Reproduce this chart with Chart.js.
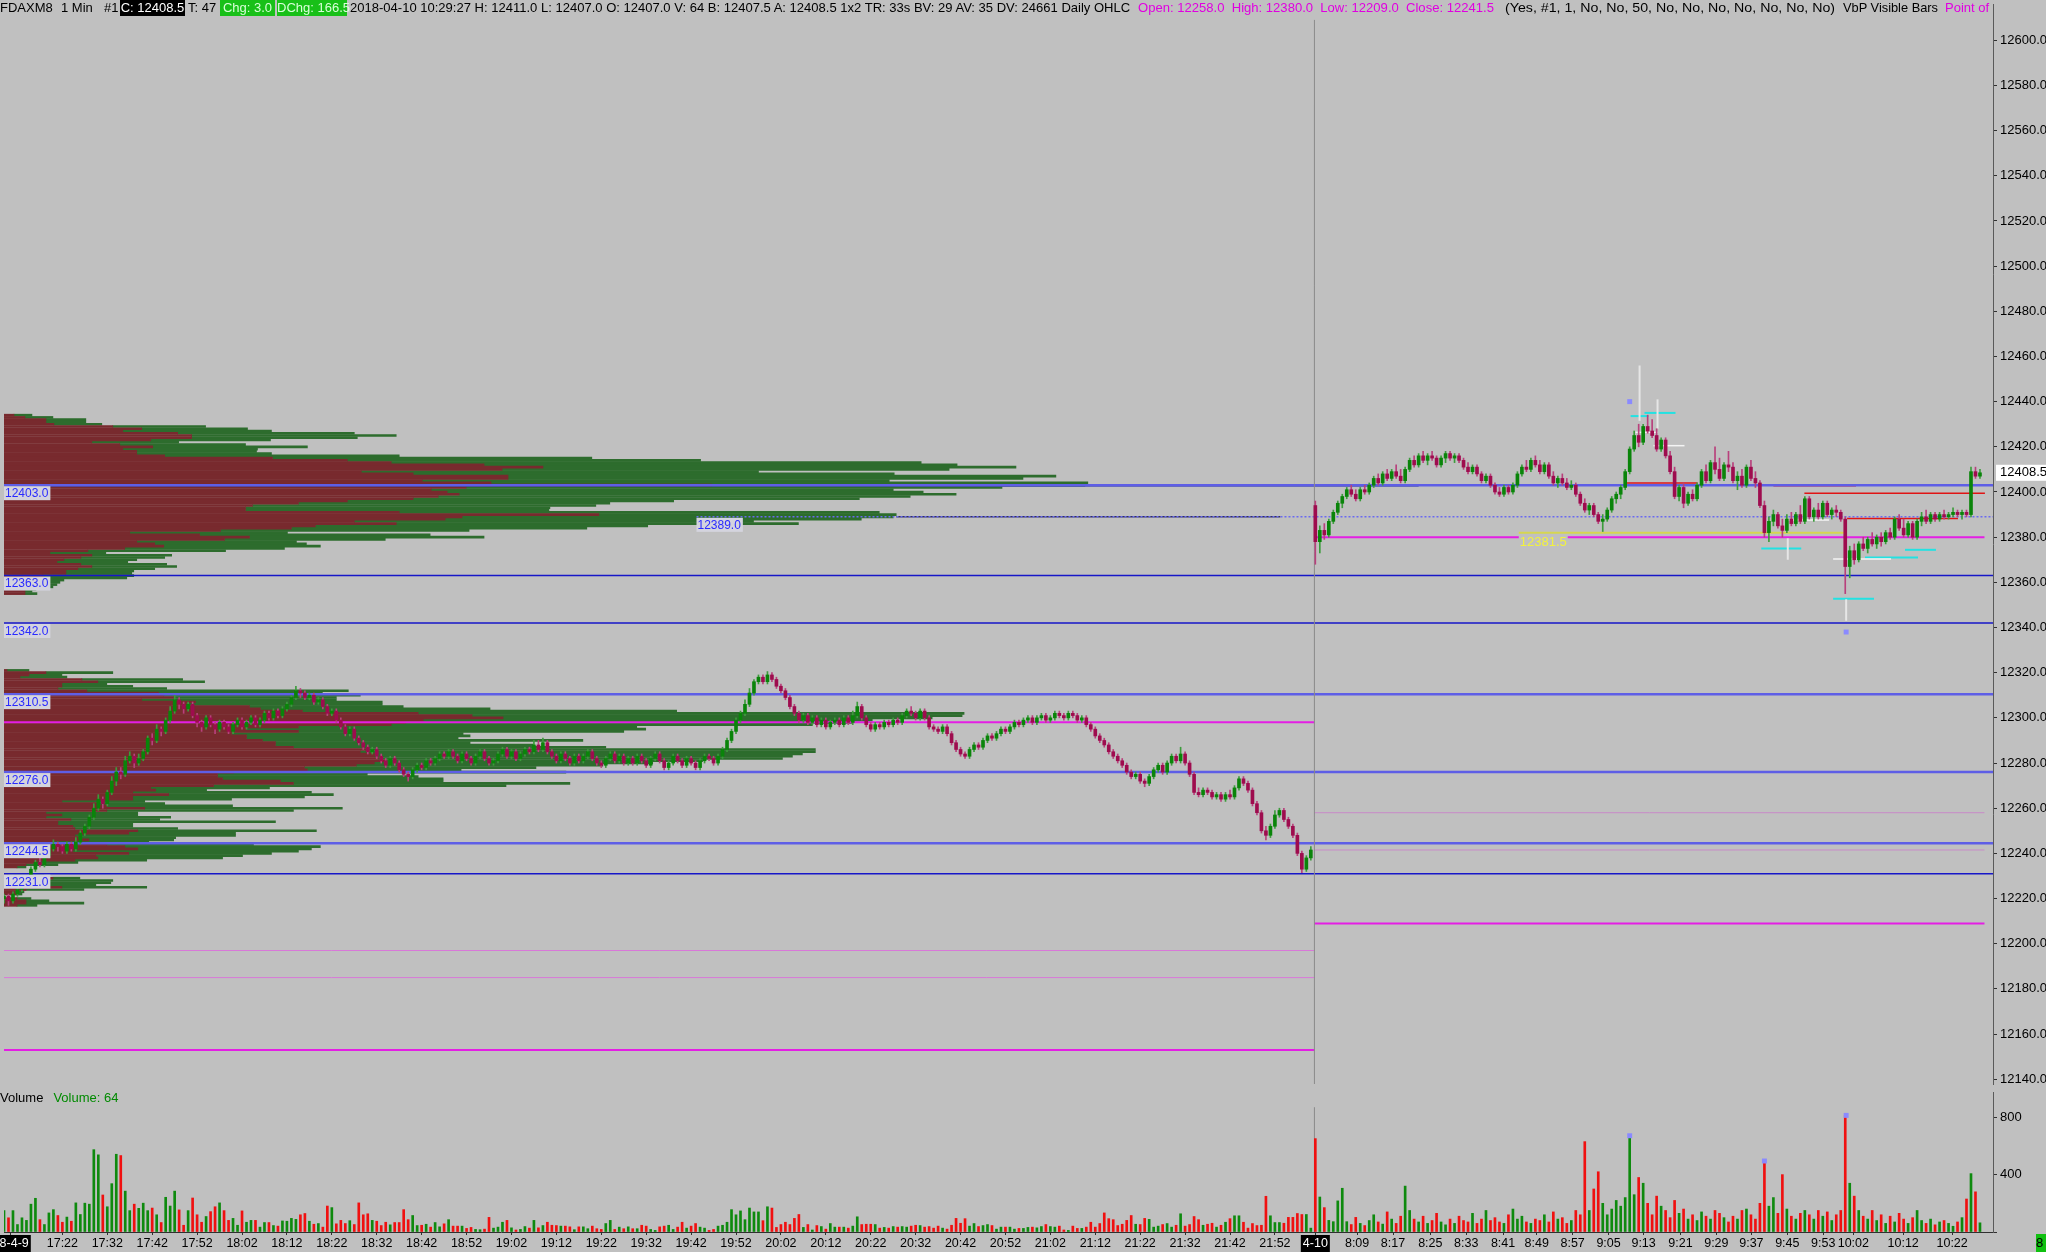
<!DOCTYPE html>
<html>
<head>
<meta charset="utf-8">
<title>FDAXM8 1 Min</title>
<script src="https://cdn.jsdelivr.net/npm/chart.js@4.4.1/dist/chart.umd.min.js"></script>
<style>
  html, body { margin:0; padding:0; background:#c0c0c0; width:2046px; height:1252px; overflow:hidden; font-family:"Liberation Sans", Arial, sans-serif; }
  canvas { position:absolute; left:0; }
  #price { top:0; }
  #volume { top:1088px; }
  #hdr { position:absolute; left:0; top:0; width:1993px; height:16px; overflow:hidden; font-size:13px; line-height:16px; white-space:nowrap; z-index:2; }
  #hdr span { position:absolute; top:0; transform-origin:left center; }
  .inv { background:#000; color:#fff; text-align:center; }
  .grn { background:#18c018; color:#d8ffd8; text-align:center; }
  .mag { color:#e000e0; }
  #vlab { position:absolute; left:0; top:1090px; font-size:13px; line-height:15px; z-index:2; }
  #vlab b { font-weight:normal; color:#008a00; margin-left:10px; }
  #clock { position:absolute; left:2036px; top:1234px; width:10px; height:18px; background:#10c010; font-size:13px; line-height:18px; overflow:hidden; }
</style>
</head>
<body>
<canvas id="price" width="2046" height="1088" style="width:2046px;height:1088px"></canvas>
<canvas id="volume" width="2046" height="164" style="width:2046px;height:164px"></canvas>
<div id="hdr">
  <span style="left:0">FDAXM8</span>
  <span style="left:61px">1 Min</span>
  <span style="left:104px">#1</span>
  <span class="inv" style="left:120px;width:65px">C: 12408.5</span>
  <span style="left:188px">T: 47</span>
  <span class="grn" style="left:220px;width:55px">Chg: 3.0</span>
  <span class="grn" style="left:277px;width:70px">DChg: 166.5</span>
  <span data-w="780" style="left:350px">2018-04-10 10:29:27 H: 12411.0 L: 12407.0 O: 12407.0 V: 64 B: 12407.5 A: 12408.5 1x2 TR: 33s BV: 29 AV: 35 DV: 24661 Daily OHLC</span>
  <span class="mag" data-w="356" style="left:1138px">Open: 12258.0&nbsp; High: 12380.0&nbsp; Low: 12209.0&nbsp; Close: 12241.5</span>
  <span data-w="330" style="left:1505px">(Yes, #1, 1, No, No, 50, No, No, No, No, No, No, No)</span>
  <span data-w="95" style="left:1843px">VbP Visible Bars</span>
  <span class="mag" style="left:1945px">Point of</span>
</div>
<div id="vlab">Volume<b>Volume: 64</b></div>
<div id="clock">8</div>
<script>
// ---- candles, [open, high, low, close] per 1-minute bar ----
const bars0409 = [
[12220,12222,12218,12221],[12221,12222,12217,12219],[12219,12223,12218,12222],[12222,12225,12221,12224],[12224,12227,12223,12226],
[12226,12230,12225,12229],[12229,12234,12228,12233],[12233,12237,12232,12236],[12236,12238,12234,12235],[12235,12240,12234,12239],
[12239,12243,12238,12242],[12242,12246,12241,12244],[12244,12245,12241,12243],[12243,12244,12240,12241],[12241,12245,12240,12244],
[12244,12245,12241,12242],[12242,12247,12241,12245],[12245,12250,12244,12249],[12249,12253,12248,12252],[12252,12257,12251,12256],
[12256,12262,12255,12260],[12260,12266,12259,12264],[12264,12265,12260,12262],[12262,12268,12261,12267],[12267,12274,12266,12272],
[12272,12278,12270,12276],[12276,12278,12273,12275],[12275,12283,12274,12281],[12281,12285,12280,12283],[12283,12284,12278,12280],
[12280,12284,12279,12282],[12282,12286,12281,12285],[12285,12292,12284,12291],[12291,12293,12288,12290],[12290,12297,12289,12295],
[12295,12296,12292,12294],[12294,12300,12293,12299],[12299,12305,12298,12303],[12303,12310,12302,12308],[12308,12309,12304,12306],
[12306,12307,12302,12304],[12304,12307,12303,12306],[12306,12307,12300,12301],[12301,12302,12296,12298],[12298,12299,12294,12296],
[12296,12301,12295,12300],[12300,12301,12296,12297],[12297,12298,12293,12295],[12295,12299,12294,12298],[12298,12299,12295,12296],
[12296,12297,12293,12294],[12294,12298,12293,12297],[12297,12300,12296,12299],[12299,12300,12295,12296],[12296,12299,12295,12298],
[12298,12301,12297,12300],[12300,12301,12296,12297],[12297,12300,12296,12299],[12299,12303,12298,12302],[12302,12303,12299,12300],
[12300,12304,12299,12303],[12303,12304,12300,12301],[12301,12305,12300,12304],[12304,12307,12303,12306],[12306,12310,12305,12309],
[12309,12314,12308,12312],[12312,12313,12309,12311],[12311,12312,12308,12309],[12309,12311,12308,12310],[12310,12311,12306,12307],
[12307,12309,12306,12308],[12308,12309,12304,12305],[12305,12306,12301,12302],[12302,12304,12301,12303],[12303,12304,12298,12299],
[12299,12300,12295,12296],[12296,12297,12292,12293],[12293,12296,12292,12295],[12295,12296,12290,12291],[12291,12292,12288,12289],
[12289,12290,12286,12287],[12287,12288,12284,12285],[12285,12287,12284,12286],[12286,12287,12282,12283],[12283,12284,12280,12281],
[12281,12282,12278,12279],[12279,12283,12278,12282],[12282,12283,12279,12280],[12280,12281,12276,12277],[12277,12278,12274,12275],
[12275,12276,12272,12274],[12274,12278,12273,12277],[12277,12280,12276,12279],[12279,12280,12277,12278],[12278,12282,12277,12281],
[12281,12282,12279,12280],[12280,12283,12279,12282],[12282,12285,12281,12284],[12284,12285,12282,12283],[12283,12286,12282,12285],
[12285,12286,12282,12283],[12283,12284,12280,12281],[12281,12285,12280,12284],[12284,12285,12281,12282],[12282,12283,12279,12280],
[12280,12284,12279,12283],[12283,12286,12282,12285],[12285,12286,12281,12282],[12282,12283,12279,12280],[12280,12282,12279,12281],
[12281,12285,12280,12284],[12284,12287,12283,12286],[12286,12287,12282,12283],[12283,12286,12282,12285],[12285,12286,12281,12282],
[12282,12285,12281,12284],[12284,12287,12283,12286],[12286,12287,12284,12285],[12285,12290,12284,12288],[12288,12290,12285,12286],
[12286,12291,12285,12289],[12289,12290,12284,12285],[12285,12286,12282,12283],[12283,12284,12280,12281],[12281,12285,12280,12284],
[12284,12285,12281,12282],[12282,12283,12279,12280],[12280,12284,12279,12283],[12283,12284,12280,12281],[12281,12284,12280,12283],
[12283,12286,12282,12285],[12285,12286,12281,12282],[12282,12283,12279,12280],[12280,12281,12278,12279],[12279,12283,12278,12282],
[12282,12285,12281,12284],[12284,12285,12280,12281],[12281,12284,12280,12283],[12283,12284,12279,12280],[12280,12283,12279,12282],
[12282,12283,12279,12280],[12280,12284,12279,12283],[12283,12284,12280,12281],[12281,12282,12278,12279],[12279,12283,12278,12282],
[12282,12285,12281,12284],[12284,12285,12280,12281],[12281,12282,12277,12278],[12278,12281,12277,12280],[12280,12284,12279,12283],
[12283,12284,12280,12281],[12281,12282,12278,12279],[12279,12283,12278,12282],[12282,12283,12279,12280],[12280,12281,12277,12278],
[12278,12282,12277,12281],[12281,12284,12280,12283],[12283,12284,12281,12282],[12282,12283,12279,12280],[12280,12284,12279,12283],
[12283,12287,12282,12286],[12286,12291,12285,12290],[12290,12295,12289,12294],[12294,12300,12293,12299],[12299,12303,12298,12302],
[12302,12308,12301,12306],[12306,12313,12305,12311],[12311,12317,12310,12316],[12316,12319,12315,12318],[12318,12319,12315,12316],
[12316,12320.5,12315,12319],[12319,12320,12316,12317],[12317,12318,12313,12314],[12314,12315,12311,12312],[12312,12313,12308,12309],
[12309,12310,12304,12305],[12305,12306,12301,12302],[12302,12303,12298,12299],[12299,12302,12298,12301],[12301,12302,12297,12298],
[12298,12301,12297,12300],[12300,12301,12296,12297],[12297,12300,12296,12299],[12299,12300,12295,12296],[12296,12299,12295,12298],
[12298,12300,12297,12299],[12299,12300,12296,12297],[12297,12301,12296,12300],[12300,12301,12297,12298],[12298,12303,12297,12301],
[12301,12307,12300,12305],[12305,12306,12299,12300],[12300,12301,12296,12297],[12297,12298,12294,12295],[12295,12298,12294,12297],
[12297,12298,12295,12296],[12296,12299,12295,12298],[12298,12299,12296,12297],[12297,12300,12296,12299],[12299,12300,12297,12298],
[12298,12302,12297,12301],[12301,12304,12300,12303],[12303,12305,12301,12302],[12302,12303,12299,12300],[12300,12304,12299,12303],
[12303,12304,12299,12300],[12300,12301,12295,12296],[12296,12297,12294,12295],[12295,12296,12293,12294],[12294,12297,12293,12296],
[12296,12297,12292,12293],[12293,12294,12288,12289],[12289,12290,12285,12286],[12286,12287,12283,12284],[12284,12285,12282,12283],
[12283,12287,12282,12286],[12286,12289,12285,12288],[12288,12289,12286,12287],[12287,12291,12286,12290],[12290,12293,12289,12292],
[12292,12293,12290,12291],[12291,12294,12290,12293],[12293,12296,12292,12295],[12295,12296,12293,12294],[12294,12297,12293,12296],
[12296,12299,12295,12298],[12298,12299,12296,12297],[12297,12300,12296,12299],[12299,12301,12298,12300],[12300,12301,12297,12298],
[12298,12301,12297,12300],[12300,12302,12299,12301],[12301,12302,12298,12299],[12299,12301,12298,12300],[12300,12303,12299,12302],
[12302,12303,12300,12301],[12301,12302,12299,12300],[12300,12303,12299,12302],[12302,12303,12300,12301],[12301,12302,12298,12299],
[12299,12301,12298,12300],[12300,12301,12296,12297],[12297,12298,12294,12295],[12295,12296,12291,12292],[12292,12293,12289,12290],
[12290,12291,12287,12288],[12288,12289,12284,12285],[12285,12286,12282,12283],[12283,12284,12280,12281],[12281,12282,12278,12279],
[12279,12280,12275,12276],[12276,12277,12273,12274],[12274,12276,12273,12275],[12275,12276,12271,12272],[12272,12273,12269.5,12271],
[12271,12275,12270,12274],[12274,12278,12273,12277],[12277,12280,12276,12279],[12279,12280,12275,12276],[12276,12281,12275,12280],
[12280,12284,12279,12283],[12283,12284,12280,12281],[12281,12287,12280,12284],[12284,12285,12279,12280],[12280,12281,12274,12275],
[12275,12276,12266,12267],[12267,12269,12265,12266],[12266,12269,12265,12268],[12268,12269,12266,12267],[12267,12268,12264,12265],
[12265,12267,12264,12266],[12266,12267,12263,12264],[12264,12267,12263,12266],[12266,12268,12264,12265],[12265,12270,12264,12269],
[12269,12274,12268,12273],[12273,12274,12270,12271],[12271,12272,12267,12268],[12268,12269,12261,12262],[12262,12263,12257,12258],
[12258,12259,12249,12250],[12250,12252,12246,12248],[12248,12253,12247,12252],[12252,12259,12251,12257],[12257,12260,12256,12259],
[12259,12260,12254,12255],[12255,12256,12251,12252],[12252,12253,12247,12248],[12248,12249,12239,12240],[12240,12241,12231.5,12233],
[12233,12239,12232,12238],[12238,12243,12237,12241.5]
];
const bars0410 = [
[12394,12396,12368,12378],[12378,12385,12373,12383],[12383,12386,12379,12381],[12381,12388,12380,12387],[12387,12392,12386,12391],
[12391,12396,12390,12395],[12395,12399,12393,12398],[12398,12402,12397,12401],[12401,12403,12398,12399],[12399,12401,12396,12397],
[12397,12402,12396,12401],[12401,12403,12399,12400],[12400,12404,12399,12403],[12403,12407,12402,12406],[12406,12408,12403,12404],
[12404,12409,12403,12408],[12408,12410,12405,12406],[12406,12410,12405,12409],[12409,12412,12406,12407],[12407,12410,12404,12405],
[12405,12411,12404,12410],[12410,12415,12409,12414],[12414,12416,12411,12412],[12412,12417,12411,12416],[12416,12418,12413,12414],
[12414,12417,12412,12416],[12416,12418,12414,12415],[12415,12416,12411,12412],[12412,12416,12411,12415],[12415,12418,12413,12417],
[12417,12418,12414,12415],[12415,12417,12413,12416],[12416,12417,12413,12414],[12414,12415,12410,12411],[12411,12413,12408,12409],
[12409,12412,12408,12411],[12411,12412,12407,12408],[12408,12409,12404,12405],[12405,12408,12404,12407],[12407,12408,12402,12403],
[12403,12404,12399,12400],[12400,12402,12398,12399],[12399,12403,12398,12402],[12402,12403,12399,12400],[12400,12404,12399,12403],
[12403,12409,12402,12408],[12408,12412,12407,12411],[12411,12414,12409,12410],[12410,12415,12409,12414],[12414,12416,12411,12412],
[12412,12414,12408,12409],[12409,12413,12408,12412],[12412,12413,12406,12407],[12407,12409,12403,12404],[12404,12407,12402,12406],
[12406,12408,12403,12404],[12404,12406,12401,12402],[12402,12405,12401,12403],[12403,12404,12398,12399],[12399,12400,12394,12395],
[12395,12397,12391,12392],[12392,12395,12390,12394],[12394,12395,12389,12390],[12390,12391,12386,12387],[12387,12390,12382.5,12388],
[12388,12393,12387,12392],[12392,12398,12391,12397],[12397,12400,12395,12399],[12399,12403,12397,12402],[12402,12410,12401,12409],
[12409,12420,12408,12419],[12419,12427,12418,12425],[12425,12430,12420,12422],[12422,12430,12421,12429],[12429,12434,12426,12427],
[12427,12432,12424,12425],[12425,12428,12418,12419],[12419,12424,12418,12423],[12423,12424,12415,12416],[12416,12418,12408,12409],
[12409,12411,12397,12398],[12398,12403,12396,12402],[12402,12404,12393,12395],[12395,12400,12394,12399],[12399,12401,12396,12397],
[12397,12404,12396,12403],[12403,12410,12402,12409],[12409,12412,12404,12405],[12405,12414,12404,12413],[12413,12420,12408,12410],
[12410,12415,12405,12406],[12406,12413,12405,12412],[12412,12418,12409,12411],[12411,12413,12404,12405],[12405,12409,12401,12407],
[12407,12410,12402,12403],[12403,12412,12402,12411],[12411,12414,12405,12406],[12406,12409,12402,12404],[12404,12405,12393,12394],
[12394,12396,12380,12382],[12382,12389,12378,12387],[12387,12392,12385,12390],[12390,12391,12384,12385],[12385,12388,12380,12383],
[12383,12390,12382,12388],[12388,12391,12385,12386],[12386,12391,12385,12390],[12390,12394,12386,12387],[12387,12398,12386,12397],
[12397,12398,12388,12389],[12389,12393,12387,12392],[12392,12395,12388,12389],[12389,12396,12388,12395],[12395,12396,12389,12390],
[12390,12393,12388,12392],[12392,12394,12389,12391],[12391,12392,12387,12388],[12388,12389,12355,12367],[12367,12376,12362,12374],
[12374,12377,12368,12370],[12370,12378,12369,12377],[12377,12380,12374,12375],[12375,12380,12373,12379],[12379,12382,12376,12377],
[12377,12381,12375,12380],[12380,12382,12376,12378],[12378,12383,12377,12382],[12382,12384,12379,12380],[12380,12389,12379,12388],
[12388,12390,12383,12384],[12384,12388,12380,12381],[12381,12387,12380,12386],[12386,12387,12379,12380],[12380,12388,12379,12387],
[12387,12391,12385,12389],[12389,12392,12386,12387],[12387,12391,12386,12390],[12390,12391,12387,12388],[12388,12391,12387,12390],
[12390,12392,12388,12389],[12389,12391,12388,12390],[12390,12393,12389,12391],[12391,12392,12389,12390],[12390,12392,12388,12391],
[12391,12392,12389,12390],[12390,12411,12389,12409],[12409,12411,12406,12407],[12407,12410,12406,12408.5]
];

// ---- volume per bar ----
const vol0409 = [
149,99,149,52,99,81,194,235,86,52, 133,156,115,68,104,75,203,122,201,194,
574,538,258,176,337,542,533,285,149,194, 165,201,149,167,120,66,242,181,285,154,
47,149,237,120,68,108,142,176,203,149, 81,95,47,147,68,81,81,34,66,66,
45,41,77,75,95,88,120,129,75,54, 59,34,181,170,57,81,59,79,52,203,
120,127,81,75,45,68,50,66,66,156, 86,115,45,47,54,34,66,36,57,86,
41,41,41,25,32,18,16,20,102,27, 34,68,81,29,14,18,38,27,81,29,
45,68,47,45,41,41,36,16,36,36, 23,41,23,18,59,81,18,34,23,36,
23,23,47,41,18,11,36,41,47,18, 34,68,27,41,59,34,
27,11,18,41,47, 68,156,120,147,86, 167,140,140,79,176, 167,32,52,68,52,
95,122,32,52,14, 45,38,20,59,34, 34,34,27,41,106, 52,54,54,52,27,
32,27,38,34,38, 34,41,47,45,34, 38,27,41,27,20, 47,95,61,93,41,
59,38,45,52,45, 20,34,34,34,20, 25,25,32,34,29, 38,52,38,34,41,
14,11,41,25,25, 34,68,34,59,133, 93,86,45,54,81, 115,54,52,95,88,
34,41,52,59,34, 47,127,41,52,108, 86,47,54,61,34, 47,68,93,113,113,
68,27,59,45,47, 249,113,66,66,61, 102,102,129,122,122, 27
];
const vol0410 = [
651,244,170,81,72,217,305,72,52,102, 60,45,80,120,70,55,140,90,60,110,
320,150,90,70,110,60,80,130,70,50, 90,60,110,80,70,130,60,90,150,80,
100,70,60,120,160,90,110,70,60,90, 80,120,70,140,90,100,60,80,150,120,
630,150,300,420,200,120,160,220,180,240, 671,260,380,340,200,120,250,180,150,100,
220,130,160,90,120,80,140,110,90,150, 130,100,70,110,90,150,160,120,90,200,
495,180,240,130,400,160,110,90,130,150, 120,90,150,110,140,80,120,150,813,340,
250,150,110,90,150,80,120,60,110,70, 130,90,60,100,150,80,60,90,50,70,
80,60,40,70,100,230,407,280,64
];

// ---- volume profiles: [price, sell volume, total volume] ----
const profile0410 = [
[12434,10,28],[12433,21,49],[12432,42,82],[12431,42,82],[12430,50,98],[12429,109,202],[12428,138,244],[12427,119,268],[12426,174,351],[12425,188,393],
[12424,188,354],[12423,147,267],[12422,88,175],[12421,116,242],[12420,149,304],[12419,119,254],[12418,133,253],[12417,133,268],[12416,161,396],[12415,269,589],
[12414,344,698],[12413,388,919],[12412,481,955],[12411,540,1014],[12410,499,947],[12409,358,756],[12408,410,892],[12407,505,1054],[12406,505,1021],[12405,419,887],
[12404,488,1086],[12403,709,1083],[12402,463,1000],[12401,428,891],[12400,444,921],[12399,456,954],[12398,435,908],[12397,410,857],[12396,344,671],[12395,295,607],
[12394,249,593],[12393,242,547],[12392,242,546],[12391,396,877],[12390,596,894],[12389,459,891],[12388,442,859],[12387,351,751],[12386,393,796],[12385,312,645],
[12384,288,584],[12383,217,466],[12382,126,284],[12381,196,427],[12380,246,481],[12379,221,382],[12378,133,293],[12377,151,303],[12376,160,317],[12375,121,281],
[12374,84,222],[12373,46,102],[12372,88,168],[12371,77,161],[12370,60,133],[12369,53,124],[12368,77,163],[12367,88,173],[12366,74,151],[12365,62,130],
[12364,62,128],[12363,39,130],[12362,40,123],[12361,39,60],[12360,39,56],[12359,39,53],[12358,28,49],[12357,21,32],[12356,21,28],[12355,21,33]
];
const profile0409 = [
[12321,3,25],[12320,42,109],[12319,25,58],[12318,16,63],[12317,78,179],[12316,94,201],[12315,58,103],[12314,58,129],[12313,54,163],[12312,83,345],
[12311,155,319],[12310,160,357],[12309,170,333],[12308,138,333],[12307,192,379],[12306,183,379],[12305,246,400],[12304,257,487],[12303,299,674],[12302,415,962],
[12301,469,960],[12300,500,930],[12299,420,870],[12298,402,850],[12297,388,810],[12296,295,634],[12295,243,643],[12294,295,621],[12293,228,460],[12292,243,467],
[12291,243,455],[12290,259,580],[12289,272,467],[12288,272,531],[12287,290,603],[12286,362,813],[12285,357,813],[12284,371,800],[12283,371,790],[12282,375,780],
[12281,382,700],[12280,371,650],[12279,353,600],[12278,301,533],[12277,304,458],[12276,230,563],[12275,214,364],[12274,214,415],[12273,219,440],[12272,277,440],
[12271,290,567],[12270,210,503],[12269,147,266],[12268,152,203],[12267,129,308],[12266,165,330],[12265,129,301],[12264,129,228],[12263,58,141],[12262,94,161],
[12261,103,229],[12260,141,339],[12259,103,290],[12258,42,134],[12257,58,134],[12256,42,167],[12255,67,156],[12254,54,272],[12253,54,129],[12252,69,129],
[12251,71,174],[12250,134,313],[12249,125,232],[12248,71,232],[12247,74,172],[12246,85,170],[12245,49,145],[12244,103,250],[12243,121,317],[12242,134,308],
[12241,69,295],[12240,125,268],[12239,92,239],[12238,94,219],[12237,71,143],[12236,33,74],[12235,22,54],[12234,13,22],
[12230,4,40],[12229,49,76],[12228,36,109],[12227,40,107],[12226,20,92],[12225,58,143],[12224,22,80],[12223,11,20],[12222,13,18],
[12220,13,27],[12219,22,45],[12218,22,80],[12217,13,33]
];

// ---- levels ----
const valueAreaLevels = [12403, 12310.5, 12276, 12244.5];
const extremeLevels = [12363, 12342, 12231];
const pocLevel = 12389;
const nakedPoc = [12389, 198.7, 284.2];
const priorLevelsStrong = [12298, 12153];
const priorLevelsThin = [12197, 12185];
const dailyHighLow = [12380, 12209];
const dailyOpenClose = [12258, 12241.5];
const levelTags = [['12403.0',12403,0],['12363.0',12363,0],['12342.0',12342,0],['12310.5',12310.5,0],['12276.0',12276,0],['12244.5',12244.5,0],['12231.0',12231,0],['12389.0',12389,154.2]];
const yellowLevel = [12382, 337.3, 410];
const redSegments = [[12404,361.3,377.1],[12402.8,394,412.4],[12399.4,400.9,441.1],[12388.3,410.4,435.1]];
const whiteSegments = [[12426.4,363.3,368.2],[12420.5,367.3,374.2],[12387.6,397.1,406.4],[12370.3,407.3,420.2]];
const whiteSpikes = [[397.2,12370,12379.5],[410.2,12343,12352.5],[364.2,12431.5,12456],[368.2,12428,12441]];
const cyanSegments = [[12433.6,362.2,366.2],[12435,365.3,372.2],[12375,391.3,400.2],[12352.7,407.3,416.4],[12371,414.4,426.2],[12374.4,423.3,430.2]];
const priceMarkers = [[362,12440],[410.2,12338]];
const volumeMarkers = [[362,671],[392,495],[410.2,813]];
const lastPrice = 12408.5;

// ---- time axis ----
const tickText = ['18-4-9','17:22','17:32','17:42','17:52','18:02','18:12','18:22','18:32','18:42','18:52','19:02','19:12','19:22','19:32','19:42','19:52',
  '20:02','20:12','20:22','20:32','20:42','20:52','21:02','21:12','21:22','21:32','21:42','21:52','4-10',
  '8:09','8:17','8:25','8:33','8:41','8:49','8:57','9:05','9:13','9:21','9:29','9:37','9:45','9:53','10:02','10:12','10:22'];
const tickIdx = [1.5,13,23,33,43,53,63,73,83,93,103,113,123,133,143,153,163,173,183,193,203,213,223,233,243,253,263,273,283,292,
  301.3,309.3,317.6,325.6,333.8,341.3,349.3,357.3,365.1,373.3,381.3,389.1,397.1,405.1,411.8,422.9,433.8];

const X_MAX = 442.9;
const SPLIT = 291.8;

// fit header chunks to their widths
document.querySelectorAll('#hdr [data-w]').forEach(el => {
  const w = el.getBoundingClientRect().width;
  el.style.transform = 'scaleX(' + (+el.dataset.w / w).toFixed(3) + ')';
});

Chart.defaults.font.family = '"Liberation Sans", Arial, sans-serif';

const allBars = bars0409.concat(bars0410);
const allVol = vol0409.concat(vol0410);
const isUp = b => b[3] >= b[0];

function hline(price, from, to, color, width, dash) {
  return { type:'line', data:[{x:from,y:price},{x:to,y:price}], borderColor:color, borderWidth:width,
    borderDash:dash || [], pointRadius:0, order:5, xAxisID:'x', yAxisID:'y' };
}
function vline(x, p0, p1, color, width) {
  return { type:'line', data:[{x:x,y:p0},{x:x,y:p1}], borderColor:color, borderWidth:width,
    pointRadius:0, order:4, xAxisID:'x', yAxisID:'y' };
}
function profileSets(rows) {
  return [
    { type:'bar', indexAxis:'y', xAxisID:'xp', yAxisID:'y', order:10, grouped:false, barThickness:2,
      data: rows.map(r => ({y:r[0], x:[0, r[1]]})), backgroundColor:'#782a2e' },
    { type:'bar', indexAxis:'y', xAxisID:'xp', yAxisID:'y', order:10, grouped:false, barThickness:2,
      data: rows.map(r => ({y:r[0], x:[r[1], r[2]]})), backgroundColor:'#2d6c2d' }
  ];
}

const lineSets = [];
valueAreaLevels.forEach(p => lineSets.push(hline(p, 0, X_MAX, '#5e5ee6', 2.5)));
lineSets.push(hline(12403, 0, 315, '#1c2a78', 2.5));
extremeLevels.forEach(p => lineSets.push(hline(p, 0, X_MAX, '#1616c8', 1.5)));
lineSets.push(hline(pocLevel, 154.2, X_MAX, '#6a6af0', 1.5, [2, 2]));
lineSets.push(hline(nakedPoc[0], nakedPoc[1], nakedPoc[2], '#34345a', 1.5));
priorLevelsStrong.forEach(p => lineSets.push(hline(p, 0, SPLIT, '#e41ee4', 2)));
priorLevelsThin.forEach(p => lineSets.push(hline(p, 0, SPLIT, '#d878d8', 1)));
dailyHighLow.forEach(p => lineSets.push(hline(p, SPLIT, 441, '#e41ee4', 2)));
dailyOpenClose.forEach(p => lineSets.push(hline(p, SPLIT, 441, '#c88ac8', 1)));
lineSets.push(hline(yellowLevel[0], yellowLevel[1], yellowLevel[2], '#d6d650', 2));
redSegments.forEach(s => lineSets.push(hline(s[0], s[1], s[2], '#e01414', 1.5)));
whiteSegments.forEach(s => lineSets.push(hline(s[0], s[1], s[2], '#f4f4f4', 1.5)));
cyanSegments.forEach(s => lineSets.push(hline(s[0], s[1], s[2], '#22e2e2', 2)));
whiteSpikes.forEach(s => lineSets.push(vline(s[0], s[1], s[2], '#e6e6e6', 2)));
lineSets.push(vline(SPLIT, 12137.9, 12609, '#8a8a8a', 1));

const tagPlugin = {
  id: 'tags',
  afterDatasetsDraw(chart) {
    const {ctx, scales:{x, y}} = chart;
    ctx.save();
    ctx.font = '12px "Liberation Sans", Arial';
    ctx.textBaseline = 'middle';
    levelTags.forEach(([txt, p, i]) => {
      const px = x.getPixelForValue(i), py = y.getPixelForValue(p);
      const w = ctx.measureText(txt).width + 3;
      ctx.fillStyle = '#d4d4de';
      ctx.fillRect(px, py + 1, w, 14);
      ctx.fillStyle = '#2a2aff';
      ctx.fillText(txt, px + 1, py + 8.5);
    });
    // yellow level tag
    const yx = x.getPixelForValue(yellowLevel[1]), yy = y.getPixelForValue(yellowLevel[0]);
    ctx.font = '13px "Liberation Sans", Arial';
    const yw = ctx.measureText('12381.5').width + 2;
    ctx.fillStyle = '#c0c0c0';
    ctx.fillRect(yx, yy + 2, yw, 14);
    ctx.fillStyle = '#f2f23c';
    ctx.fillText('12381.5', yx + 1, yy + 9.5);
    ctx.restore();
  },
  afterDraw(chart) {
    const {ctx, chartArea, scales:{y}} = chart;
    const py = y.getPixelForValue(lastPrice);
    ctx.save();
    ctx.fillStyle = '#ffffff';
    ctx.fillRect(chartArea.right + 3, py - 8, 50, 16);
    ctx.fillStyle = '#000';
    ctx.font = '13px "Liberation Sans", Arial';
    ctx.textBaseline = 'middle';
    ctx.fillText(lastPrice.toFixed(1), chartArea.right + 7, py);
    ctx.restore();
  }
};

new Chart(document.getElementById('price'), {
  data: {
    datasets: [
      { type:'scatter', data: priceMarkers.map(m => ({x:m[0], y:m[1]})), pointStyle:'rect', pointRadius:3.5,
        backgroundColor:'#8a8aff', borderWidth:0, order:0, xAxisID:'x', yAxisID:'y' },
      { type:'bar', data: allBars.map((b, i) => ({x:i, y:[b[0], b[3]]})), grouped:false, barThickness:3, minBarLength:1,
        backgroundColor: allBars.map(b => isUp(b) ? '#0a840a' : '#9e0c4e'), order:1, xAxisID:'x', yAxisID:'y' },
      { type:'bar', data: allBars.map((b, i) => ({x:i, y:[b[2], b[1]]})), grouped:false, barThickness:1,
        backgroundColor: allBars.map(b => isUp(b) ? '#3c9c3c' : '#b8407c'), order:2, xAxisID:'x', yAxisID:'y' },
      ...lineSets,
      ...profileSets(profile0410),
      ...profileSets(profile0409)
    ]
  },
  options: {
    animation:false, responsive:false, devicePixelRatio:1,
    layout: { padding:0 },
    plugins: { legend:{display:false}, tooltip:{enabled:false} },
    scales: {
      x: { type:'linear', min:0, max:X_MAX, display:false, offset:false, grid:{offset:false} },
      xp: { type:'linear', min:0, max:1993, display:false, offset:false, grid:{offset:false} },
      y: { type:'linear', position:'right', min:12137.9, max:12616.04, offset:false,
        afterFit: s => { s.width = 53; s.paddingTop = 0; s.paddingBottom = 0; },
        grid: { drawOnChartArea:false, tickLength:4, color:'#303030', offset:false },
        border: { color:'#5a5a5a' },
        ticks: { stepSize:20, includeBounds:false, padding:3, color:'#000', font:{size:13},
          callback: v => v.toFixed(1) } }
    }
  },
  plugins: [tagPlugin]
});

new Chart(document.getElementById('volume'), {
  data: {
    datasets: [
      { type:'scatter', data: volumeMarkers.map(m => ({x:m[0], y:m[1]})), pointStyle:'rect', pointRadius:3.5,
        backgroundColor:'#8a8aff', borderWidth:0, order:0 },
      { type:'bar', data: allVol.map((v, i) => ({x:i, y:v})), grouped:false, barThickness:2,
        backgroundColor: allBars.map(b => isUp(b) ? '#0e8a0e' : '#f01010'), order:1 },
      { type:'line', data:[{x:SPLIT, y:0}, {x:SPLIT, y:870}], borderColor:'#8a8a8a', borderWidth:1, pointRadius:0, order:2 }
    ]
  },
  options: {
    animation:false, responsive:false, devicePixelRatio:1,
    layout: { padding:0 },
    plugins: { legend:{display:false}, tooltip:{enabled:false} },
    scales: {
      x: { type:'linear', min:0, max:X_MAX, position:'bottom', offset:false,
        afterBuildTicks: s => { s.ticks = tickIdx.map(v => ({value:v})); },
        afterFit: s => { s.height = 20; s.paddingLeft = 0; s.paddingRight = 0; },
        grid: { drawOnChartArea:false, tickLength:3, color:'#303030', offset:false },
        border: { color:'#303030' },
        ticks: { autoSkip:false, maxRotation:0, padding:1, font:{size:12.5},
          callback: (v, i) => tickText[i],
          color: c => tickText[c.index] && tickText[c.index].includes('-') ? '#fff' : '#000',
          showLabelBackdrop: c => !!(tickText[c.index] && tickText[c.index].includes('-')),
          backdropColor: '#000', backdropPadding: {x:2, y:1} } },
      y: { type:'linear', position:'right', min:0, max:976, offset:false,
        afterFit: s => { s.width = 53; s.paddingTop = 0; s.paddingBottom = 0; },
        grid: { drawOnChartArea:false, tickLength:4, color:'#303030', offset:false },
        border: { color:'#5a5a5a' },
        ticks: { stepSize:400, includeBounds:false, padding:3, color:'#000', font:{size:13},
          callback: v => v === 0 ? '' : v } }
    }
  }
});
</script>
</body>
</html>
